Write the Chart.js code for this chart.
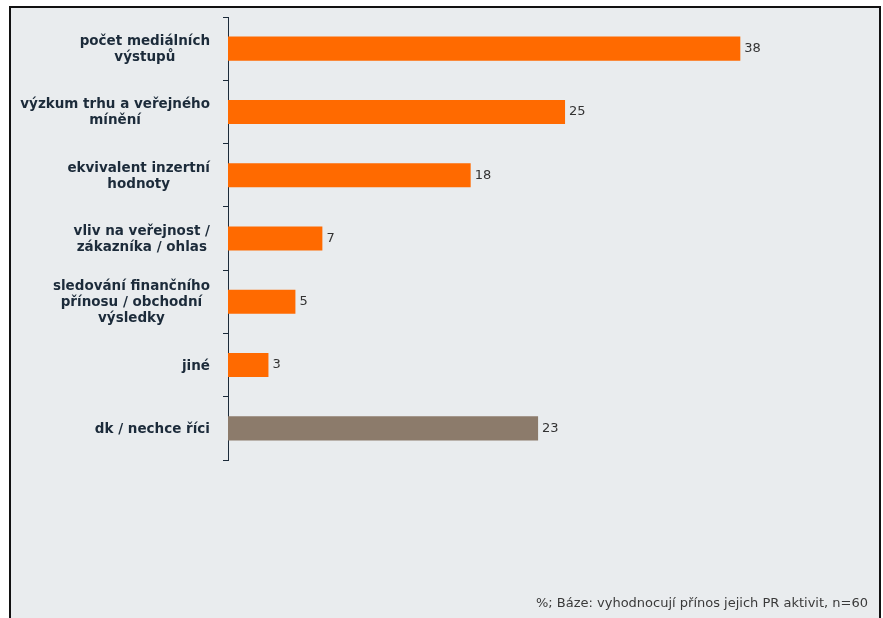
<!DOCTYPE html>
<html>
<head>
<meta charset="utf-8">
<script src="https://cdn.jsdelivr.net/npm/chart.js@4/dist/chart.umd.min.js"></script>
<style>
  html, body { margin: 0; padding: 0; background: #ffffff; }
  #frame { position: absolute; left: 9px; top: 6px; width: 868px; height: 640px; border: 2px solid #111; background: #e9ecee; }
  #wrap { position: absolute; left: 0; top: 0; width: 883px; height: 618px; }
  #note { position: absolute; right: 15px; top: 595px; font-family: "DejaVu Sans", sans-serif; font-size: 13px; color: #3a3a3a; white-space: nowrap; }
</style>
</head>
<body>
<div id="frame"></div>
<div id="wrap"><canvas id="c" width="883" height="618"></canvas></div>
<div id="note">%; Báze: vyhodnocují přínos jejich PR aktivit, n=60</div>
<script>
const categories = [
  ["počet mediálních", "výstupů"],
  ["výzkum trhu a veřejného", "mínění"],
  ["ekvivalent inzertní", "hodnoty"],
  ["vliv na veřejnost /", "zákazníka / ohlas"],
  ["sledování finančního", "přínosu / obchodní", "výsledky"],
  ["jiné"],
  ["dk / nechce říci"]
];
const values = [38, 25, 18, 7, 5, 3, 23];
const barColors = ["#ff6a00", "#ff6a00", "#ff6a00", "#ff6a00", "#ff6a00", "#ff6a00", "#8c7b6b"];

const labelPlugin = {
  id: 'labels',
  afterDraw(chart) {
    const ctx = chart.ctx;
    const y = chart.scales.y;
    ctx.save();
    ctx.font = "bold 13.5px 'DejaVu Sans', sans-serif";
    ctx.fillStyle = "#1c2b3a";
    ctx.textBaseline = "middle";
    ctx.textAlign = "center";
    const lh = 16;
    categories.forEach((lines, i) => {
      const cy = y.getPixelForValue(i) + 1;
      const w = Math.max(...lines.map(l => ctx.measureText(l).width));
      const cx = 210 - w / 2;
      const y0 = cy - (lines.length - 1) * lh / 2;
      lines.forEach((l, j) => ctx.fillText(l, cx, y0 + j * lh));
    });
    ctx.font = "13px 'DejaVu Sans', sans-serif";
    ctx.fillStyle = "#333333";
    ctx.textAlign = "left";
    const meta = chart.getDatasetMeta(0);
    meta.data.forEach((bar, i) => {
      ctx.fillText(String(values[i]), bar.x + 4, bar.y);
    });
    ctx.restore();
  }
};

new Chart(document.getElementById('c'), {
  type: 'bar',
  data: {
    labels: categories.map(l => l.join(' ')),
    datasets: [{
      data: values,
      backgroundColor: barColors,
      borderWidth: 0,
      categoryPercentage: 1,
      barPercentage: 0.38
    }]
  },
  options: {
    indexAxis: 'y',
    responsive: false,
    animation: false,
    layout: { padding: { left: 223, top: 17, right: 51, bottom: 158 } },
    plugins: { legend: { display: false }, tooltip: { enabled: false } },
    scales: {
      x: { display: false, min: 0, max: 44.8 },
      y: {
        afterFit(s) { s.width = 5; },
        ticks: { display: false },
        grid: { drawOnChartArea: false, drawTicks: true, tickLength: 5, color: '#1c2b3a', offset: true },
        border: { display: true, color: '#1c2b3a', width: 1 }
      }
    }
  },
  plugins: [labelPlugin]
});
</script>
</body>
</html>
